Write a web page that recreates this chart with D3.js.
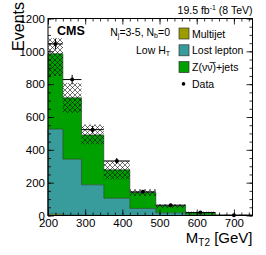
<!DOCTYPE html>
<html>
<head>
<meta charset="utf-8">
<script src="https://cdn.jsdelivr.net/npm/d3@7"></script>
<style>
 body { margin:0; background:#fff; }
 text { font-family: "Liberation Sans", Arial, sans-serif; }
</style>
</head>
<body>
<div id="chart"></div>
<script>
 var width = 266,
 height = 255;

 // DATA
 var binEdges   = [200, 240, 290, 350, 420, 490, 570, 650, 750];
 var multijet   = [8, 2, 1, 0, 0, 0, 0, 0];
 var lostLepton = [518, 341, 186, 105, 43, 16, 4, 1];
 var zinv       = [459, 374, 304, 173, 97, 43, 14, 2];
 var errDown    = [135, 91, 57, 57, 20, 14, 5, 2];
 var errUp      = [95, 91, 63, 55, 20, 9, 6, 2];
 var dataObs    = [1045, 828, 523, 332, 144, 63, 18, 1];
 var xTicks = [200, 300, 400, 500, 600, 700];
 var yTicks = [0, 200, 400, 600, 800, 1000, 1200];
 var legendLabels = ["Multijet", "Lost lepton", "Z(\u03bd\u03bd\u0305)+jets", "Data"];
 var colors = ["#9c9c00", "#389c9c", "#00a000"];

 var pLeft = 48, pRight = 252.5, pTop = 18.5, pBottom = 215.5;

 var svg = d3.select("#chart").append("svg")
    .attr("width", width)
    .attr("height", height);

 var defs = svg.append("defs");
 var pat = defs.append("pattern")
    .attr("id", "hatch")
    .attr("patternUnits", "userSpaceOnUse")
    .attr("width", 5)
    .attr("height", 5);
 pat.append("path")
    .attr("d", "M0,0L5,5M5,0L0,5M-1,4L1,6M4,-1L6,1M-1,1L1,-1M4,6L6,4")
    .attr("stroke", "#000")
    .attr("stroke-width", 0.55);

 var x = d3.scaleLinear().domain([200, 750]).range([pLeft, pRight]);
 var y = d3.scaleLinear().domain([0, 1200]).range([pBottom, pTop]);

 // build stack
 var bins = binEdges.slice(0, -1).map(function(lo, i) {
    return {lo: lo, hi: binEdges[i+1], mj: multijet[i], ll: lostLepton[i], z: zinv[i],
            dn: errDown[i], up: errUp[i], obs: dataObs[i]};
 });
 var stack = d3.stack().keys(["mj", "ll", "z"])(bins);

 // histograms as step areas
 function stepArea(layer) {
    var pts = [];
    layer.forEach(function(d) {
        pts.push([d.data.lo, d[0], d[1]]);
        pts.push([d.data.hi, d[0], d[1]]);
    });
    return d3.area()
        .x(function(p) { return x(p[0]); })
        .y0(function(p) { return y(p[1]); })
        .y1(function(p) { return y(p[2]); })(pts);
 }
 function stepLine(layer) {
    var pts = [[layer[0].data.lo, 0]];
    layer.forEach(function(d) {
        pts.push([d.data.lo, d[1]]);
        pts.push([d.data.hi, d[1]]);
    });
    pts.push([layer[layer.length-1].data.hi, 0]);
    return d3.line().x(function(p) { return x(p[0]); }).y(function(p) { return y(p[1]); })(pts);
 }

 var gh = svg.append("g").attr("class", "stack");
 stack.forEach(function(layer, i) {
    gh.append("path")
        .attr("d", stepArea(layer))
        .attr("fill", colors[i]);
 });
 stack.forEach(function(layer, i) {
    gh.append("path")
        .attr("d", stepLine(layer))
        .attr("fill", "none")
        .attr("stroke", "#1e3a2a")
        .attr("stroke-opacity", 0.8)
        .attr("stroke-width", 0.8);
 });

 // uncertainty band
 var tot = stack[2];
 svg.append("g").selectAll("rect")
    .data(tot)
    .enter().append("rect")
    .attr("x", function(d) { return x(d.data.lo); })
    .attr("width", function(d) { return x(d.data.hi) - x(d.data.lo); })
    .attr("y", function(d) { return y(d[1] + d.data.up); })
    .attr("height", function(d) { return y(d[1] - d.data.dn) - y(d[1] + d.data.up); })
    .attr("fill", "url(#hatch)");

 // data points
 var gd = svg.append("g").attr("class", "data");
 gd.selectAll("line.xerr").data(bins).enter().append("line")
    .attr("x1", function(d) { return x(d.lo); })
    .attr("x2", function(d) { return x(d.hi); })
    .attr("y1", function(d) { return y(d.obs); })
    .attr("y2", function(d) { return y(d.obs); })
    .attr("stroke", "#000").attr("stroke-width", 1);
 gd.selectAll("line.yerr").data(bins).enter().append("line")
    .attr("x1", function(d) { return x((d.lo + d.hi) / 2); })
    .attr("x2", function(d) { return x((d.lo + d.hi) / 2); })
    .attr("y1", function(d) { return y(d.obs + Math.sqrt(d.obs)); })
    .attr("y2", function(d) { return y(Math.max(0, d.obs - Math.sqrt(d.obs))); })
    .attr("stroke", "#000").attr("stroke-width", 1);
 gd.selectAll("circle").data(bins).enter().append("circle")
    .attr("cx", function(d) { return x((d.lo + d.hi) / 2); })
    .attr("cy", function(d) { return y(d.obs); })
    .attr("r", 2)
    .attr("fill", "#000");

 // AXES (ticks inside, on all four sides)
 var xMinor = d3.range(200, 751, 20);
 var yMinor = d3.range(0, 1201, 50);
 function addAxis(axis, tr) {
    var g = svg.append("g").attr("transform", tr).call(axis);
    g.select(".domain").remove();
    g.selectAll("line").attr("stroke", "#000").attr("stroke-width", 0.8);
    return g;
 }
 addAxis(d3.axisBottom(x).tickValues(xMinor).tickSize(-3).tickFormat(""), "translate(0," + pBottom + ")");
 addAxis(d3.axisTop(x).tickValues(xMinor).tickSize(-3).tickFormat(""), "translate(0," + pTop + ")");
 addAxis(d3.axisTop(x).tickValues(xTicks).tickSize(-6).tickFormat(""), "translate(0," + pTop + ")");
 addAxis(d3.axisLeft(y).tickValues(yMinor).tickSize(-3).tickFormat(""), "translate(" + pLeft + ",0)");
 addAxis(d3.axisRight(y).tickValues(yMinor).tickSize(-3).tickFormat(""), "translate(" + pRight + ",0)");
 addAxis(d3.axisRight(y).tickValues(yTicks).tickSize(-6).tickFormat(""), "translate(" + pRight + ",0)");

 var gx = addAxis(d3.axisBottom(x).tickValues(xTicks).tickSize(-6).tickPadding(3).tickFormat(d3.format("d")),
    "translate(0," + pBottom + ")");
 gx.selectAll("text").attr("font-size", 11.5).attr("fill", "#000")
    .attr("font-family", "Liberation Sans, Arial, sans-serif");
 var gy = addAxis(d3.axisLeft(y).tickValues(yTicks).tickSize(-6).tickPadding(3).tickFormat(d3.format("d")),
    "translate(" + pLeft + ",0)");
 gy.selectAll("text").attr("font-size", 11.5).attr("fill", "#000")
    .attr("font-family", "Liberation Sans, Arial, sans-serif");

 // frame
 svg.append("rect")
    .attr("x", pLeft).attr("y", pTop)
    .attr("width", pRight - pLeft).attr("height", pBottom - pTop)
    .attr("fill", "none").attr("stroke", "#000").attr("stroke-width", 1);

 // TITLES
 var t = svg.append("text")
    .attr("x", pRight).attr("y", 243)
    .attr("text-anchor", "end").attr("font-size", 15);
 t.append("tspan").text("M");
 t.append("tspan").attr("font-size", 10).attr("dy", 3).text("T2");
 t.append("tspan").attr("dy", -3).text(" [GeV]");

 svg.append("text")
    .attr("transform", "translate(24,2) rotate(-90)")
    .attr("text-anchor", "end").attr("font-size", 16)
    .text("Events");

 var lumi = svg.append("text")
    .attr("x", pRight).attr("y", 14)
    .attr("text-anchor", "end").attr("font-size", 10.5);
 lumi.append("tspan").text("19.5 fb");
 lumi.append("tspan").attr("font-size", 7).attr("dy", -4).text("-1");
 lumi.append("tspan").attr("dy", 4).text(" (8 TeV)");

 svg.append("text")
    .attr("x", 57).attr("y", 35)
    .attr("font-size", 12.5).attr("font-weight", "bold")
    .text("CMS");

 var nj = svg.append("text")
    .attr("x", 170).attr("y", 36)
    .attr("text-anchor", "end").attr("font-size", 10.5);
 nj.append("tspan").text("N");
 nj.append("tspan").attr("font-size", 7).attr("dy", 2).text("j");
 nj.append("tspan").attr("dy", -2).text("=3-5, N");
 nj.append("tspan").attr("font-size", 7).attr("dy", 2).text("b");
 nj.append("tspan").attr("dy", -2).text("=0");

 var ht = svg.append("text")
    .attr("x", 170).attr("y", 54)
    .attr("text-anchor", "end").attr("font-size", 10.5);
 ht.append("tspan").text("Low H");
 ht.append("tspan").attr("font-size", 7).attr("dy", 2).text("T");

 // LEGEND
 var lg = svg.append("g").attr("class", "legend").attr("transform", "translate(179,28)");
 legendLabels.forEach(function(lab, i) {
    var yy = i * 16.8;
    if (i < 3) {
        lg.append("rect")
            .attr("x", 0).attr("y", yy)
            .attr("width", 10).attr("height", 11)
            .attr("fill", colors[i])
            .attr("stroke", "#333").attr("stroke-width", 0.7);
    } else {
        lg.append("circle").attr("cx", 4.5).attr("cy", yy + 5.5).attr("r", 1.8).attr("fill", "#000");
    }
    lg.append("text")
        .attr("x", 13).attr("y", yy + 9.5)
        .attr("font-size", 10.5)
        .text(lab);
 });
</script>
</body>
</html>
